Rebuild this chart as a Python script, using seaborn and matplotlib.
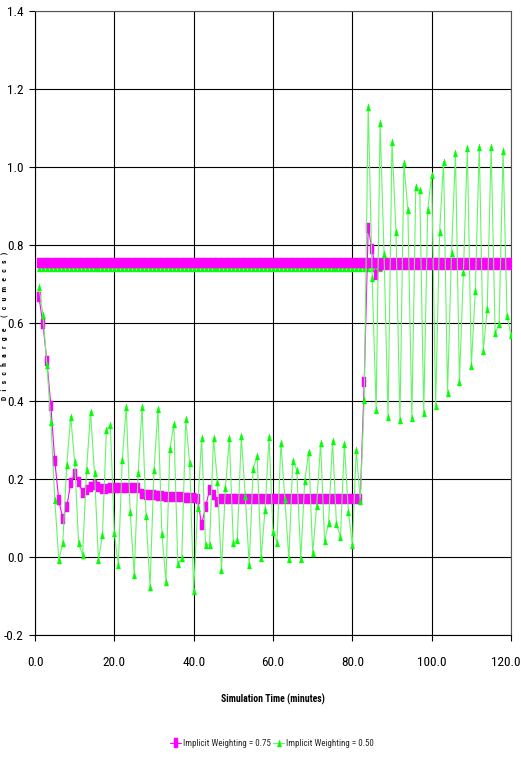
import numpy as np
import pandas as pd
import matplotlib
matplotlib.use("Agg")
import matplotlib.pyplot as plt
import matplotlib.transforms as mtransforms
import seaborn as sns
from matplotlib import font_manager

# Simulation output, one value per minute (t = 1 .. 120 min)
minutes = list(range(1, 121))

discharge_w075 = [
    0.667, 0.597, 0.503, 0.387, 0.245, 0.146, 0.098, 0.129, 0.189, 0.213,
    0.192, 0.165, 0.172, 0.180, 0.185, 0.179, 0.174, 0.175, 0.178, 0.178,
    0.178, 0.178, 0.178, 0.178, 0.178, 0.177, 0.161, 0.160, 0.159, 0.158,
    0.157, 0.156, 0.155, 0.155, 0.154, 0.153, 0.153, 0.152, 0.152, 0.151,
    0.150, 0.082, 0.129, 0.172, 0.159, 0.142, 0.150, 0.150, 0.150, 0.150,
    0.150, 0.150, 0.150, 0.150, 0.150, 0.150, 0.150, 0.150, 0.150, 0.150,
    0.150, 0.150, 0.149, 0.149, 0.149, 0.149, 0.149, 0.149, 0.149, 0.149,
    0.149, 0.149, 0.149, 0.149, 0.149, 0.149, 0.149, 0.149, 0.149, 0.149,
    0.149, 0.148, 0.450, 0.843, 0.789, 0.722, 0.745, 0.748, 0.750, 0.750,
    0.750, 0.750, 0.750, 0.750, 0.750, 0.750, 0.750, 0.750, 0.750, 0.750,
    0.750, 0.750, 0.750, 0.750, 0.750, 0.750, 0.750, 0.750, 0.750, 0.750,
    0.750, 0.750, 0.750, 0.750, 0.750, 0.750, 0.750, 0.750, 0.750, 0.750,
]

discharge_w050 = [
    0.693, 0.621, 0.492, 0.347, 0.146, -0.008, 0.035, 0.236, 0.360, 0.244,
    0.035, 0.005, 0.223, 0.373, 0.215, -0.008, 0.056, 0.326, 0.338, 0.061,
    -0.020, 0.250, 0.385, 0.116, -0.045, 0.215, 0.385, 0.104, -0.076, 0.223,
    0.379, 0.058, -0.063, 0.277, 0.340, -0.018, -0.003, 0.353, 0.240, -0.088,
    0.125, 0.304, 0.031, 0.031, 0.304, 0.193, -0.033, 0.176, 0.304, 0.035,
    0.044, 0.309, 0.157, -0.020, 0.225, 0.260, -0.003, 0.121, 0.307, 0.065,
    0.037, 0.292, 0.148, -0.005, 0.247, 0.223, -0.005, 0.195, 0.270, 0.009,
    0.131, 0.292, 0.041, 0.086, 0.298, 0.084, 0.052, 0.290, 0.116, 0.031,
    0.274, 0.144, 0.402, 1.155, 0.715, 0.377, 1.112, 0.776, 0.360, 1.065,
    0.834, 0.351, 1.009, 0.890, 0.356, 0.950, 0.941, 0.368, 0.890, 0.979,
    0.388, 0.834, 1.014, 0.420, 0.779, 1.035, 0.450, 0.730, 1.048, 0.490,
    0.683, 1.052, 0.528, 0.635, 1.052, 0.574, 0.597, 1.041, 0.618, 0.569,
]

# Inflow level traces carried by each series
inflow_w075 = [0.755] * 120
inflow_w050 = [0.740] * 87

series_labels = ["Implicit Weighting = 0.75", "Implicit Weighting = 0.50"]
x_ticks = [0, 20, 40, 60, 80, 100, 120]
y_ticks = [-0.2, 0.0, 0.2, 0.4, 0.6, 0.8, 1.0, 1.2, 1.4]

sns.set_theme(style="white")

# Prefer a narrow sans face when one is installed
entries = font_manager.fontManager.ttflist
names = {f.name for f in entries}
family, stretch, narrow_found = "Liberation Sans", "normal", False
for cand in ["Liberation Sans Narrow", "Roboto Condensed", "Open Sans Condensed"]:
    if cand in names:
        family, narrow_found = cand, True
        break
if not narrow_found:
    for f in entries:
        if f.name in ("Liberation Sans", "Roboto", "Open Sans", "Noto Sans", "DejaVu Sans") \
                and str(f.stretch) in ("condensed", "semi-condensed", "extra-condensed") \
                and str(f.style) == "normal":
            family, stretch, narrow_found = f.name, str(f.stretch), True
            break
plt.rcParams["font.family"] = [family, "DejaVu Sans"]
plt.rcParams["font.stretch"] = stretch

tick_fs = 9.5 if narrow_found else 7.5
label_fs = 7 if narrow_found else 6.5
legend_fs = 6.5 if narrow_found else 6

MAGENTA = "#ff00ff"
GREEN = "#00ff00"
GREEN_LINE = "#66f566"

# tall, narrow marker shapes
sq = [(-0.42, -1), (0.42, -1), (0.42, 1), (-0.42, 1), (-0.42, -1)]
tri = [(-0.6, -1), (0.6, -1), (0.0, 1), (-0.6, -1)]

fig = plt.figure(figsize=(5.21, 7.58), dpi=100)
ax = fig.add_axes([35 / 521, 1 - 635 / 758, 476 / 521, 624 / 758])

df75 = pd.DataFrame({"t": minutes, "q": discharge_w075})
df50 = pd.DataFrame({"t": minutes, "q": discharge_w050})
band75 = pd.DataFrame({"t": minutes, "q": inflow_w075})
band50 = pd.DataFrame({"t": minutes[:len(inflow_w050)], "q": inflow_w050})

common = dict(estimator=None, sort=False, ax=ax)
m_style = dict(marker=sq, markersize=6.5, markerfacecolor=MAGENTA,
               markeredgecolor=MAGENTA, markeredgewidth=0.3)
g_style = dict(marker=tri, markersize=5, markerfacecolor=GREEN,
               markeredgecolor=GREEN, markeredgewidth=0.3)

sns.lineplot(data=band75, x="t", y="q", color=MAGENTA, lw=0.8,
             label="_nolegend_", zorder=3, **m_style, **common)
sns.lineplot(data=band50, x="t", y="q", color=GREEN_LINE, lw=0.8,
             label="_nolegend_", zorder=2, **g_style, **common)
sns.lineplot(data=df75, x="t", y="q", color=MAGENTA, lw=0.8,
             label=series_labels[0], zorder=4, **m_style, **common)
sns.lineplot(data=df50, x="t", y="q", color=GREEN_LINE, lw=0.8,
             label=series_labels[1], zorder=5, **g_style, **common)

ax.set_xlim(0, 120)
ax.set_ylim(-0.2, 1.4)
ax.set_xticks(x_ticks)
ax.set_xticklabels([f"{v:.1f}" for v in x_ticks])
ax.set_yticks(y_ticks)
ax.set_yticklabels([f"{v:.1f}" for v in y_ticks])
ax.grid(True, color="black", lw=0.8)
ax.set_axisbelow(True)
for s in ax.spines.values():
    s.set_color("#555555")
    s.set_linewidth(0.8)
ax.spines["left"].set_color("black")
ax.spines["bottom"].set_color("black")
ax.tick_params(axis="both", which="major", direction="out", length=4, width=0.8,
               color="black", labelsize=tick_fs, labelcolor="black",
               bottom=True, left=True)
ax.tick_params(axis="x", pad=11)
ax.tick_params(axis="y", pad=4)

# keep the last x label inside the canvas
last = ax.get_xticklabels()[-1]
last.set_horizontalalignment("right")
last.set_transform(last.get_transform() +
                   mtransforms.ScaledTranslation(9 / 100, 0, fig.dpi_scale_trans))

ax.set_xlabel("Simulation Time (minutes)", fontsize=label_fs, fontweight="bold",
              color="black")
ax.xaxis.set_label_coords(0.5, -(694 - 635) / 624)
ax.set_ylabel("")

fig.text(4 / 521, 1 - 326 / 758,
         "D   i   s   c   h   a   r   g   e      (   c   u   m   e   c   s   )",
         rotation=90, fontsize=5.5, fontweight="bold", ha="center", va="center",
         color="black")

handles, labels = ax.get_legend_handles_labels()
ax.legend(handles, labels, loc="center", bbox_to_anchor=(272 / 521, 1 - 744 / 758),
          bbox_transform=fig.transFigure, ncol=2, frameon=False, fontsize=legend_fs,
          handlelength=1.2, handletextpad=0.2, columnspacing=0.3)

fig.savefig("out.png", dpi=100, facecolor="white")
